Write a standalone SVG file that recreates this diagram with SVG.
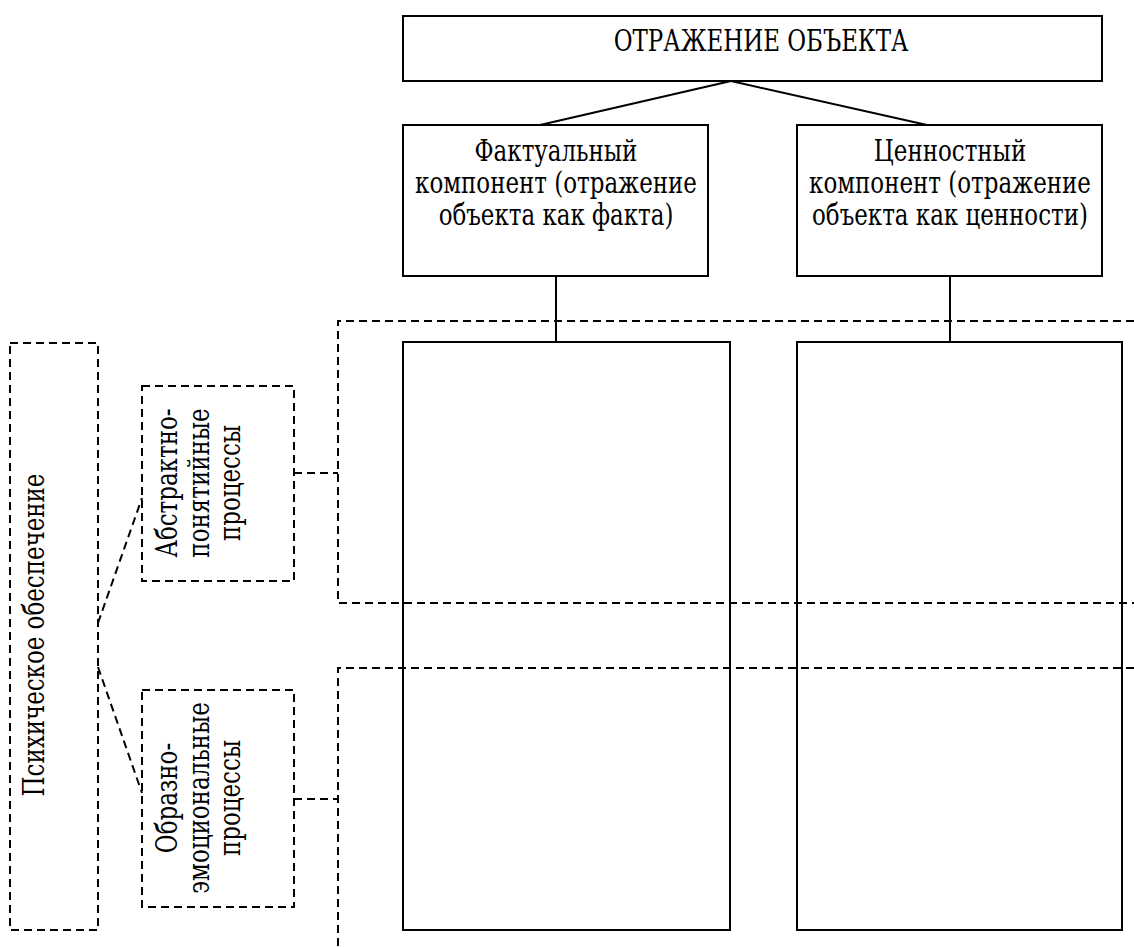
<svg xmlns="http://www.w3.org/2000/svg" width="1134" height="947" viewBox="0 0 1134 947">
<style>
.s{fill:none;stroke:#000;stroke-width:2}
.d{fill:none;stroke:#000;stroke-width:2;stroke-dasharray:8 5}
.l{fill:none;stroke:#000;stroke-width:2}
text{font-family:'DejaVu Serif',serif;font-stretch:condensed;font-size:29px;fill:#000;text-anchor:middle}
</style>
<rect width="1134" height="947" fill="#fff"/>
<g id="connectors">
<line class="l" x1="731" y1="81" x2="540" y2="125"/>
<line class="l" x1="731" y1="81" x2="927" y2="125"/>
<line class="l" x1="556" y1="276" x2="556" y2="342"/>
<line class="l" x1="950" y1="276" x2="950" y2="342"/>
<line class="d" x1="294" y1="473" x2="338" y2="473"/>
<line class="d" x1="294" y1="799" x2="338" y2="799"/>
<line class="d" x1="98" y1="623" x2="142" y2="498"/>
<line class="d" x1="98" y1="667" x2="142" y2="793"/>
</g>
<g id="frame-abstract"><path class="d" d="M1134,321 H338 V603 H1134"/></g>
<g id="frame-emotional"><path class="d" d="M1134,668 H338 V947"/></g>
<g id="top"><rect class="s" x="403" y="16" width="699" height="65"/><text transform="translate(761,51) scale(0.88,1)">ОТРАЖЕНИЕ ОБЪЕКТА</text></g>
<g id="factual"><rect class="s" x="403" y="125" width="305" height="151"/>
<text transform="translate(556,161) scale(0.88,1)">Фактуальный</text>
<text transform="translate(556,193) scale(0.88,1)">компонент (отражение</text>
<text transform="translate(556,225) scale(0.88,1)">объекта как факта)</text></g>
<g id="value"><rect class="s" x="797" y="125" width="305" height="151"/>
<text transform="translate(950,161) scale(0.88,1)">Ценностный</text>
<text transform="translate(950,193) scale(0.88,1)">компонент (отражение</text>
<text transform="translate(950,225) scale(0.88,1)">объекта как ценности)</text></g>
<g id="factual-col"><rect class="s" x="403" y="342" width="327" height="588"/></g>
<g id="value-col"><rect class="s" x="797" y="342" width="325" height="588"/></g>
<g id="psych"><rect class="d" x="10" y="343" width="88" height="587"/>
<text transform="translate(44,635) rotate(-90) scale(0.88,1)">Психическое обеспечение</text></g>
<g id="abstract"><rect class="d" x="142" y="386" width="152" height="195"/>
<text transform="translate(177,483) rotate(-90) scale(0.88,1)">Абстрактно-</text>
<text transform="translate(209,483) rotate(-90) scale(0.88,1)">понятийные</text>
<text transform="translate(240,483) rotate(-90) scale(0.88,1)">процессы</text></g>
<g id="emotional"><rect class="d" x="142" y="690" width="152" height="217"/>
<text transform="translate(177,798) rotate(-90) scale(0.88,1)">Образно-</text>
<text transform="translate(209,798) rotate(-90) scale(0.88,1)">эмоциональные</text>
<text transform="translate(240,798) rotate(-90) scale(0.88,1)">процессы</text></g>
</svg>
